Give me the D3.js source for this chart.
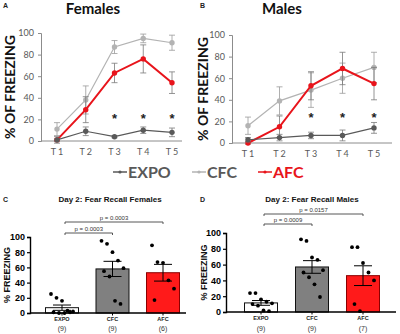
<!DOCTYPE html>
<html>
<head>
<meta charset="utf-8">
<script src="https://cdn.jsdelivr.net/npm/d3@7"></script>
<style>
  body { margin: 0; background: #fff; }
  svg { display: block; }
</style>
</head>
<body>
<div id="chart"></div>
<script>
// ---- top panels: freezing across trials ----
const trials = ["T 1", "T 2", "T 3", "T 4", "T 5"];
const starTrials = ["T 3", "T 4", "T 5"];

const femExpo = [1, 9, 4, 10, 8];
const femExpoErr = [3, 4, 1, 3, 4];
const femCfc = [11, 38, 87, 95, 91];
const femCfcErr = [6, 13, 6, 4, 7];
const femAfc = [1, 29, 63, 76, 54];
const femAfcErr = [1, 12, 9, 13, 10];

const maleExpo = [3, 5, 7, 7, 14];
const maleExpoErr = [2, 3, 3, 5, 5];
const maleCfc = [16, 39, 49, 60, 70];
const maleCfcErr = [8, 13, 16, 14, 14];
const maleAfc = [0, 15, 53, 69, 55];
const maleAfcErr = [1, 10, 13, 15, 15];

const yTicksTop = [0, 20, 40, 60, 80, 100];

// ---- bottom panels: day 2 recall ----
const groups = ["EXPO", "CFC", "AFC"];
const femN = ["(9)", "(9)", "(6)"];
const femMean = [7, 58, 53];
const femSem = [3.5, 10, 11];
const femPoints = [
  [25, 20, 16, 3, 2, 1, 0, 0, 1],
  [95, 91, 80, 69, 59, 55, 48, 16, 12],
  [89, 67, 66, 43, 32, 17]
];
const maleN = ["(9)", "(9)", "(7)"];
const maleMean = [11.5, 57, 46];
const maleSem = [3, 8, 12.5];
const malePoints = [
  [24, 24, 16, 13, 11, 10, 8, 2, 1],
  [92, 90, 69, 66, 53, 50, 44, 35, 19],
  [82, 82, 62, 50, 40, 10, 1]
];
const femP = [["EXPO", "CFC", "p = 0.0003"], ["EXPO", "AFC", "p = 0.0003"]];
const maleP = [["EXPO", "CFC", "p = 0.0009"], ["EXPO", "AFC", "p = 0.0157"]];
const yTicksBottom = [0, 20, 40, 60, 80, 100];

const colExpo = "#595959", colCfc = "#b3b3b3", colAfc = "#e8141b";

const svg = d3.select("#chart").append("svg")
    .attr("width", 400).attr("height", 334);

const sansTop = "Lato, 'Open Sans', sans-serif";
const sansBot = "'Liberation Sans', Arial, sans-serif";

// panel letters
[["A", 3, 8], ["B", 200, 8], ["C", 3, 202], ["D", 200, 202]].forEach(l => {
  svg.append("text").attr("x", l[1]).attr("y", l[2]).text(l[0])
     .style("font", "bold 7px " + sansBot).style("fill", "#222");
});

function linePanel(o) {
  const g = svg.append("g");
  const x = d3.scalePoint().domain(trials).range(o.xr);
  const y = d3.scaleLinear().domain([0, 100]).range(o.yr);

  g.append("text").attr("x", o.titleX).attr("y", 14)
   .attr("text-anchor", "middle").text(o.title)
   .style("font", "bold 15px " + sansTop).style("fill", "#111");

  g.append("text")
   .attr("transform", `translate(${o.labelX},${(o.yr[0] + o.yr[1]) / 2}) rotate(-90)`)
   .attr("text-anchor", "middle").text("% OF FREEZING")
   .style("font", "bold 14px " + sansTop).style("fill", "#111");

  // axes
  const ya = g.append("g").attr("transform", `translate(${o.axisX},0)`)
    .call(d3.axisLeft(y).tickValues(yTicksTop).tickSize(3).tickPadding(4));
  ya.select(".domain").attr("stroke", "#8c8c8c");
  ya.selectAll(".tick line").attr("stroke", "#8c8c8c");
  ya.selectAll("text").style("font", "9px " + sansTop).style("fill", "#595959");

  g.append("line").attr("x1", o.axisX).attr("x2", o.axisEnd)
   .attr("y1", y(0)).attr("y2", y(0)).attr("stroke", "#8c8c8c");
  g.selectAll(".tl").data(trials).enter().append("text")
   .attr("x", d => x(d)).attr("y", y(0) + 14)
   .attr("text-anchor", "middle").text(d => d)
   .style("font", "9px " + sansTop).style("fill", "#595959");

  const series = [
    { v: o.cfc, e: o.cfcErr, c: colCfc, w: 1.2, ec: "#9a9a9a" },
    { v: o.afc, e: o.afcErr, c: colAfc, w: 2, ec: "#7a7a7a" },
    { v: o.expo, e: o.expoErr, c: colExpo, w: 1.2, ec: "#7a7a7a" }
  ];
  series.forEach(s => {
    const pts = trials.map((t, i) => ({ t, v: s.v[i], e: s.e[i] }));
    const eb = g.append("g").attr("stroke", s.ec).attr("stroke-width", 0.8);
    pts.forEach(p => {
      eb.append("line").attr("x1", x(p.t)).attr("x2", x(p.t))
        .attr("y1", y(p.v - p.e)).attr("y2", y(p.v + p.e));
      [p.v - p.e, p.v + p.e].forEach(vv => {
        eb.append("line").attr("x1", x(p.t) - 3).attr("x2", x(p.t) + 3)
          .attr("y1", y(vv)).attr("y2", y(vv));
      });
    });
    g.append("path").datum(pts)
     .attr("d", d3.line().x(d => x(d.t)).y(d => y(d.v)))
     .attr("fill", "none").attr("stroke", s.c).attr("stroke-width", s.w);
    g.selectAll(null).data(pts).enter().append("circle")
     .attr("cx", d => x(d.t)).attr("cy", d => y(d.v)).attr("r", 2.7)
     .attr("fill", s.c);
  });

  g.selectAll(".star").data(starTrials).enter().append("text")
   .attr("x", d => x(d)).attr("y", y(o.starY) + 6)
   .attr("text-anchor", "middle").text("*")
   .style("font", "bold 13px " + sansBot).style("fill", "#222");
}

linePanel({
  title: "Females", titleX: 93, labelX: 15,
  xr: [57, 172], yr: [141, 33], axisX: 41, axisEnd: 182,
  expo: femExpo, expoErr: femExpoErr, cfc: femCfc, cfcErr: femCfcErr,
  afc: femAfc, afcErr: femAfcErr, starY: 22
});
linePanel({
  title: "Males", titleX: 282, labelX: 208,
  xr: [248, 374], yr: [143, 35], axisX: 232, axisEnd: 392,
  expo: maleExpo, expoErr: maleExpoErr, cfc: maleCfc, cfcErr: maleCfcErr,
  afc: maleAfc, afcErr: maleAfcErr, starY: 25
});

// legend
const legend = [["EXPO", colExpo, colExpo, 113], ["CFC", colCfc, colExpo, 192], ["AFC", colAfc, colAfc, 258]];
legend.forEach(l => {
  const lg = svg.append("g");
  lg.append("line").attr("x1", l[3]).attr("x2", l[3] + 14)
    .attr("y1", 172).attr("y2", 172).attr("stroke", l[1]).attr("stroke-width", 1.5);
  lg.append("circle").attr("cx", l[3] + 7).attr("cy", 172).attr("r", 1.6).attr("fill", l[1]);
  lg.append("text").attr("x", l[3] + 15).attr("y", 178).text(l[0])
    .style("font", "bold 16px " + sansTop).style("fill", l[2]);
});

function barPanel(o) {
  const g = svg.append("g");
  const x = d3.scalePoint().domain(groups).range(o.xr);
  const y = d3.scaleLinear().domain([0, 100]).range(o.yr);
  const bw = 33;
  const fills = ["#ffffff", "#808080", "#ff1a1a"];
  const strokes = ["#111", "#111", "#8b0000"];

  g.append("text").attr("x", o.titleX).attr("y", 202)
   .attr("text-anchor", "middle").text(o.title)
   .style("font", "bold 8px " + sansBot).style("fill", "#111");

  g.append("text")
   .attr("transform", `translate(${o.labelX},${(o.yr[0] + o.yr[1]) / 2}) rotate(-90)`)
   .attr("text-anchor", "middle").text("% FREEZING")
   .style("font", "bold 9px " + sansBot).style("fill", "#111");

  const data = groups.map((gr, i) => ({ gr, m: o.mean[i], s: o.sem[i], pts: o.points[i], n: o.n[i], i }));

  g.selectAll(".bar").data(data).enter().append("rect")
   .attr("x", d => x(d.gr) - bw / 2).attr("width", bw)
   .attr("y", d => y(d.m)).attr("height", d => y(0) - y(d.m))
   .attr("fill", d => fills[d.i]).attr("stroke", d => strokes[d.i]).attr("stroke-width", 1);

  // dots
  data.forEach(d => {
    d.pts.forEach((v, j) => {
      const off = ((j % 5) - 2) * 5.5 + (j >= 5 ? 2.5 : 0);
      g.append("circle").attr("cx", x(d.gr) + off).attr("cy", y(v))
       .attr("r", 1.9).attr("fill", "#000");
    });
  });

  // error bars
  data.forEach(d => {
    const eb = g.append("g").attr("stroke", "#000").attr("stroke-width", 1);
    eb.append("line").attr("x1", x(d.gr)).attr("x2", x(d.gr))
      .attr("y1", y(d.m - d.s)).attr("y2", y(d.m + d.s));
    [d.m - d.s, d.m + d.s].forEach(vv => {
      eb.append("line").attr("x1", x(d.gr) - 9).attr("x2", x(d.gr) + 9)
        .attr("y1", y(vv)).attr("y2", y(vv));
    });
  });

  const ya = g.append("g").attr("transform", `translate(${o.axisX},0)`)
    .call(d3.axisLeft(y).tickValues(yTicksBottom).tickSize(3).tickPadding(2));
  ya.select(".domain").attr("stroke", "#000").attr("stroke-width", 1.4);
  ya.selectAll(".tick line").attr("stroke", "#000").attr("stroke-width", 1.2);
  ya.selectAll("text").style("font", "bold 9px " + sansBot).style("fill", "#000");

  g.append("line").attr("x1", o.axisX).attr("x2", o.axisEnd)
   .attr("y1", y(0)).attr("y2", y(0)).attr("stroke", "#000").attr("stroke-width", 1.4);
  g.selectAll(".xt").data(groups).enter().append("line")
   .attr("x1", d => x(d)).attr("x2", d => x(d))
   .attr("y1", y(0)).attr("y2", y(0) + 2.5).attr("stroke", "#000");
  g.selectAll(".xl").data(groups).enter().append("text")
   .attr("x", d => x(d)).attr("y", y(0) + 8)
   .attr("text-anchor", "middle").text(d => d)
   .style("font", "bold 5.5px " + sansBot).style("fill", "#222");
  g.selectAll(".nl").data(data).enter().append("text")
   .attr("x", d => x(d.gr)).attr("y", 331)
   .attr("text-anchor", "middle").text(d => d.n)
   .style("font", "7px " + sansBot).style("fill", "#333");

  // p-value brackets
  o.p.forEach((b, k) => {
    const by = o.bracketY[k];
    const x1 = x(b[0]) + 3, x2 = x(b[1]);
    const bg = g.append("g").attr("stroke", "#444").attr("stroke-width", 0.9).attr("fill", "none");
    bg.append("path").attr("d", `M${x1},${by + 2}V${by}H${x2}V${by + 2}`);
    g.append("text").attr("x", (x1 + x2) / 2).attr("y", by - 2.5)
     .attr("text-anchor", "middle").text(b[2])
     .style("font", "6px " + sansBot).style("fill", "#333");
  });
}

barPanel({
  title: "Day 2: Fear Recall Females", titleX: 110, labelX: 10,
  xr: [62, 163], yr: [313, 237], axisX: 30, axisEnd: 186,
  mean: femMean, sem: femSem, points: femPoints, n: femN,
  p: femP, bracketY: [233, 222]
});
barPanel({
  title: "Day 2: Fear Recall Males", titleX: 312, labelX: 207,
  xr: [261, 363], yr: [312, 233], axisX: 226, axisEnd: 396,
  mean: maleMean, sem: maleSem, points: malePoints, n: maleN,
  p: maleP, bracketY: [224, 214]
});
</script>
</body>
</html>
